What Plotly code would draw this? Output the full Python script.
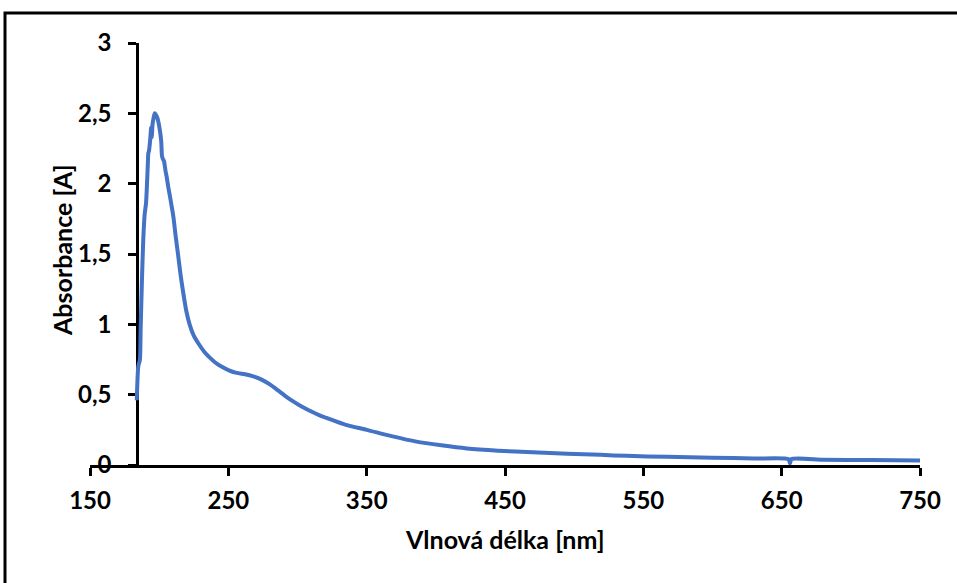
import plotly.graph_objects as go

# UV-Vis absorption spectrum
wavelength_nm = [
    183.8, 184.9, 186.1, 186.6, 187.5, 188.5, 189.5, 190.5, 191.0, 191.8,
    192.2, 192.6, 193.5, 194.2, 194.6, 195.2, 196.0, 196.8, 197.6, 198.6,
    199.4, 200.5, 201.5, 202.0, 202.5, 203.5, 204.6, 205.4, 206.5, 207.8,
    209.0, 210.2, 212.0, 213.6, 215.5, 217.0, 219.5, 222.0, 225.0, 229.0,
    233.0, 237.0, 241.0, 245.0, 250.0, 256.0, 262.0, 268.0, 274.0, 280.0,
    286.0, 292.0, 298.0, 304.0, 310.0, 316.0, 321.0, 335.0, 350.0, 368.0,
    386.0, 404.0, 422.4, 445.0, 470.0, 495.0, 519.0, 538.0, 567.0, 600.0,
    630.0, 655.0, 656.0, 657.0, 680.0, 715.0, 750.0,
]
absorbance = [
    0.46, 0.70, 0.75, 0.96, 1.30, 1.60, 1.78, 1.86, 1.95, 2.14,
    2.22, 2.23, 2.31, 2.40, 2.33, 2.42, 2.47, 2.50, 2.49, 2.47,
    2.44, 2.38, 2.30, 2.20, 2.18, 2.16, 2.09, 2.05, 1.98, 1.91,
    1.84, 1.77, 1.62, 1.50, 1.35, 1.25, 1.10, 1.00, 0.92, 0.855,
    0.80, 0.76, 0.725, 0.70, 0.675, 0.655, 0.645, 0.630, 0.607, 0.573,
    0.530, 0.485, 0.445, 0.410, 0.380, 0.353, 0.335, 0.285, 0.25, 0.205,
    0.166, 0.140, 0.118, 0.102, 0.090, 0.080, 0.072, 0.065, 0.058, 0.052,
    0.046, 0.042, 0.012, 0.042, 0.038, 0.035, 0.032,
]

x_title = "Vlnová délka [nm]"
y_title = "Absorbance [A]"

FONT = "Lato"
TICK_SIZE = 24
TITLE_SIZE = 25
W, H = 957, 583
L, R, T, B = 90, 37, 43, 118
pw, ph = W - L - R, H - T - B


def px_x(p):
    return (p - L) / pw


def px_y(p):
    return (H - B - p) / ph


fig = go.Figure()
fig.add_trace(go.Scatter(
    x=wavelength_nm, y=absorbance, mode="lines",
    line=dict(color="#4472C4", width=4, shape="spline", smoothing=0.6),
    showlegend=False, hoverinfo="x+y",
))

axis_common = dict(
    showgrid=False, zeroline=False, showline=True, linecolor="black",
    linewidth=2.5, ticks="outside", ticklen=8, tickwidth=2.5,
    tickcolor="black", layer="below traces",
    tickfont=dict(family=FONT, size=TICK_SIZE, color="black", weight="bold"),
)

fig.update_layout(
    width=W, height=H,
    margin=dict(l=L, r=R, t=T, b=B, pad=0),
    paper_bgcolor="white", plot_bgcolor="white",
    separators=", ",
    font=dict(family=FONT, color="black"),
    xaxis=dict(range=[150, 750], tick0=150, dtick=100,
               ticklabelstandoff=4, **axis_common),
    yaxis=dict(range=[0, 3], tick0=0, dtick=0.5, anchor="free",
               position=px_x(137), ticklabelstandoff=12, **axis_common),
    shapes=[dict(
        type="rect", xref="paper", yref="paper",
        x0=px_x(5), x1=px_x(W + 20), y0=px_y(H + 20), y1=px_y(13),
        line=dict(color="black", width=3), fillcolor="rgba(0,0,0,0)",
        layer="above",
    )],
    annotations=[
        dict(text=x_title, xref="paper", yref="paper", x=px_x(505),
             y=px_y(539), xanchor="center", yanchor="middle", showarrow=False,
             font=dict(family=FONT, size=TITLE_SIZE, color="black",
                       weight="bold")),
        dict(text=y_title, xref="paper", yref="paper", x=px_x(62),
             y=px_y(250), xanchor="center", yanchor="middle", showarrow=False,
             textangle=-90,
             font=dict(family=FONT, size=TITLE_SIZE, color="black",
                       weight="bold")),
    ],
)

fig.write_html("out.html")
